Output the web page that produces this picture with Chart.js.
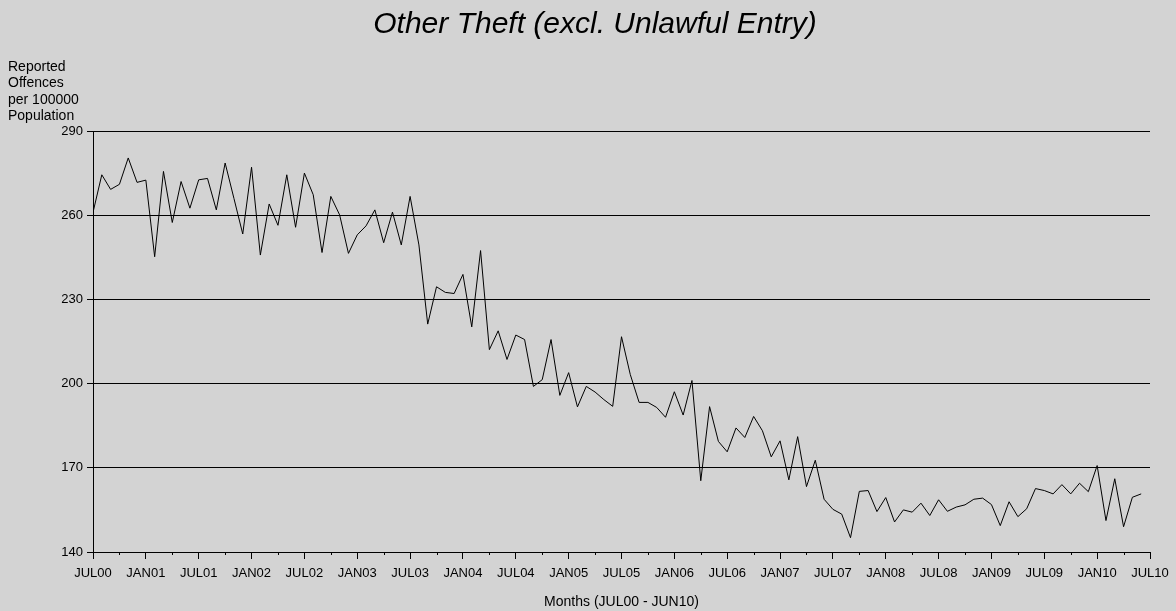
<!DOCTYPE html>
<html>
<head>
<meta charset="utf-8">
<title>Other Theft (excl. Unlawful Entry)</title>
<script src="https://cdn.jsdelivr.net/npm/chart.js@4"></script>
<style>
  body { margin: 0; background: #d3d3d3; }
  #chart { display: block; background: #d3d3d3; }
</style>
</head>
<body>
<canvas id="chart" width="1176" height="611"></canvas>
<script>
// monthly rate, JUL00 .. JUN10
const offenceRates = [
  261, 274.4, 269.2, 271, 280.4, 271.7, 272.5, 245.2, 275.6, 257.4,
  272, 262.5, 272.6, 273.1, 261.9, 278.6, 266, 253.3, 277.1, 245.8,
  264, 256.4, 274.4, 255.7, 275, 267.3, 246.7, 266.7, 260.1, 246.4,
  253, 256.2, 261.9, 250.2, 261.1, 249.4, 266.7, 249.4, 221.2, 234.5,
  232.5, 232.1, 238.9, 220.2, 247.4, 212.1, 218.8, 208.6, 217.3, 215.7,
  199, 201.4, 215.7, 195.8, 203.9, 191.7, 199, 197, 194.3, 191.9,
  216.7, 203.2, 193.3, 193.3, 191.5, 188, 197.1, 188.8, 201.1, 165.4,
  191.8, 179.4, 175.7, 184.2, 180.8, 188.3, 183.2, 173.9, 179.6, 165.7,
  181.1, 163.3, 172.7, 158.8, 155.2, 153.5, 145.1, 161.6, 161.9, 154.4,
  159.4, 150.7, 155, 154.2, 157.4, 153, 158.6, 154.5, 156, 156.8,
  158.8, 159.2, 156.9, 149.4, 157.9, 152.6, 155.4, 162.6, 161.9, 160.7,
  164, 160.7, 164.5, 161.5, 170.8, 151.2, 166.1, 149, 159.5, 160.7
];

// labels every 6 months
const monthTicks = [
  'JUL00', 'JAN01', 'JUL01', 'JAN02', 'JUL02', 'JAN03', 'JUL03',
  'JAN04', 'JUL04', 'JAN05', 'JUL05', 'JAN06', 'JUL06', 'JAN07',
  'JUL07', 'JAN08', 'JUL08', 'JAN09', 'JUL09', 'JAN10', 'JUL10'
];

const yTicks = [140, 170, 200, 230, 260, 290];

const chartTitle = 'Other Theft (excl. Unlawful Entry)';
const yAxisLabel = ['Reported', 'Offences', 'per 100000', 'Population'];
const xAxisLabel = 'Months (JUL00 - JUN10)';

const fontFamily = "'Liberation Sans', Arial, sans-serif";
Chart.defaults.font.family = fontFamily;
Chart.defaults.color = '#000';

// titles and minor ticks drawn on top
const extrasPlugin = {
  id: 'extras',
  afterDraw(chart) {
    const ctx = chart.ctx;
    const xScale = chart.scales.x;
    const area = chart.chartArea;
    ctx.save();
    ctx.fillStyle = '#000';

    ctx.font = 'italic 30px ' + fontFamily;
    ctx.textAlign = 'center';
    ctx.textBaseline = 'middle';
    ctx.fillText(chartTitle, 595, 25);

    ctx.font = '14px ' + fontFamily;
    ctx.textAlign = 'left';
    yAxisLabel.forEach((line, i) => {
      ctx.fillText(line, 8, 67 + i * 16.5);
    });

    ctx.textAlign = 'center';
    ctx.fillText(xAxisLabel, (area.left + area.right) / 2, 602);

    // minor ticks at quarter months
    ctx.strokeStyle = '#000';
    ctx.lineWidth = 1;
    ctx.beginPath();
    for (let m = 3; m < 120; m += 6) {
      const px = Math.round(xScale.getPixelForValue(m)) + 0.5;
      ctx.moveTo(px, area.bottom);
      ctx.lineTo(px, area.bottom + 3);
    }
    ctx.stroke();
    ctx.restore();
  }
};

const ctx = document.getElementById('chart').getContext('2d');
new Chart(ctx, {
  type: 'line',
  data: {
    datasets: [{
      data: offenceRates.map((v, i) => ({ x: i, y: v })),
      borderColor: '#000',
      borderWidth: 1,
      pointRadius: 0,
      tension: 0,
      fill: false
    }]
  },
  options: {
    responsive: false,
    animation: false,
    layout: {
      padding: { left: 0, top: 131, right: 26, bottom: 0 }
    },
    plugins: {
      legend: { display: false },
      title: { display: false },
      tooltip: { enabled: false }
    },
    scales: {
      x: {
        type: 'linear',
        min: 0,
        max: 120,
        afterFit: scale => { scale.height = 59; },
        afterBuildTicks: scale => {
          scale.ticks = monthTicks.map((_, i) => ({ value: i * 6 }));
        },
        ticks: {
          autoSkip: false,
          maxRotation: 0,
          padding: 7,
          font: { size: 13 },
          callback: value => monthTicks[value / 6]
        },
        grid: {
          drawOnChartArea: false,
          color: '#000',
          tickLength: 7
        },
        border: { display: true, color: '#000' }
      },
      y: {
        min: 140,
        max: 290,
        afterFit: scale => { scale.width = 93; },
        afterBuildTicks: scale => {
          scale.ticks = yTicks.map(v => ({ value: v }));
        },
        ticks: {
          padding: 4,
          font: { size: 13 }
        },
        grid: {
          color: '#000',
          lineWidth: 1,
          tickLength: 6
        },
        border: { display: true, color: '#000' }
      }
    }
  },
  plugins: [extrasPlugin]
});
</script>
</body>
</html>
